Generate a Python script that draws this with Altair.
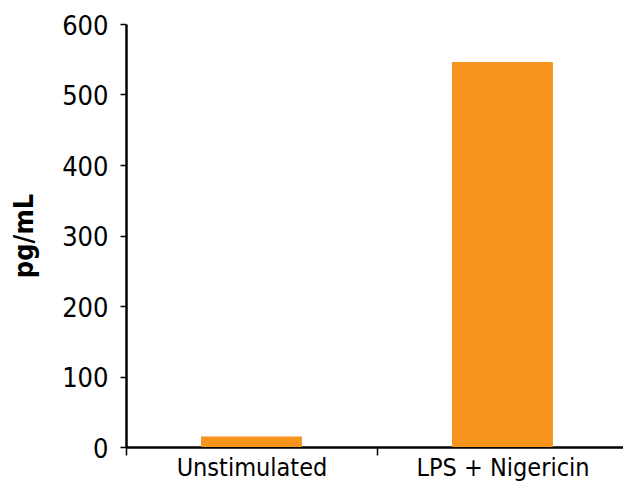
import altair as alt
import pandas as pd

categories = ["Unstimulated", "LPS + Nigericin"]
values = [15, 546]
y_ticks = [0, 100, 200, 300, 400, 500, 600]

df = pd.DataFrame({"cond": categories, "val": values})

FONT = "DejaVu Sans Condensed, DejaVu Sans, sans-serif"

chart = alt.Chart(df).mark_bar(color="#F7941D").encode(
    x=alt.X("cond:N", sort=categories,
            scale=alt.Scale(paddingInner=0.598, paddingOuter=0.289, align=0.517),
            axis=alt.Axis(title=None, labelAngle=0, labelFontSize=25, labelFont=FONT,
                          labelColor="black", domainColor="black", domainWidth=2.5,
                          tickColor="black", tickWidth=1.5, tickSize=8, labelLimit=0,
                          tickOffset=-125.5, labelOffset=125.5, labelPadding=0)),
    y=alt.Y("val:Q", scale=alt.Scale(domain=[0, 600], nice=False),
            axis=alt.Axis(title="pg/mL", values=y_ticks,
                          grid=False, labelFontSize=27, labelFont=FONT, labelColor="black",
                          titleFont=FONT, titleFontSize=27, titleFontWeight="bold",
                          titleColor="black", titlePadding=23, labelOffset=2,
                          domainColor="black", domainWidth=2.5, tickColor="black",
                          tickWidth=1.5, tickSize=6, labelPadding=12)),
).properties(
    width=497, height=423,
    autosize=alt.AutoSizeParams(type="none"),
    padding={"left": 118, "top": 16, "right": 0, "bottom": 34},
).configure_view(stroke=None)

chart.save("out.html", embed_options={"renderer": "svg", "actions": False})
